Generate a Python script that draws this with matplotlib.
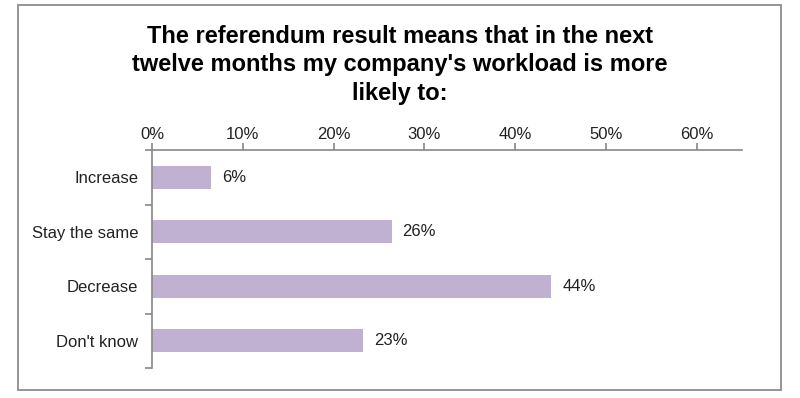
import matplotlib
matplotlib.use("Agg")
from matplotlib import pyplot as plt
from matplotlib.patches import Rectangle
import numpy as np

categories = ["Increase", "Stay the same", "Decrease", "Don't know"]
values = [6.5, 26.4, 44.0, 23.3]
labels = ["6%", "26%", "44%", "23%"]
x_ticks = [0, 10, 20, 30, 40, 50, 60]

plt.rcParams['font.family'] = ['Liberation Sans', 'DejaVu Sans']

fig = plt.figure(figsize=(8, 3.98), dpi=100)
# axes spans y from 150 to 368 pixels (top to bottom)
ax = fig.add_axes([152 / 800, (398 - 368) / 398, (742 - 152) / 800, (368 - 150) / 398])

# outer frame
fig.patches.append(Rectangle((18 / 800, (398 - 390) / 398), (781 - 18) / 800, (390 - 5) / 398,
                             transform=fig.transFigure, fill=False, edgecolor="#8c8c8c", linewidth=1.3))

y = np.arange(len(categories))
ax.barh(y, values, height=0.42, color="#c0b1d3")
for yi, v, lab in zip(y, values, labels):
    ax.text(v + 1.2, yi, lab, va="center", ha="left", fontsize=12, color="#222222")

ax.set_ylim(len(categories) - 0.5, -0.5)
ax.set_xlim(0, 65)
ax.set_xticks(x_ticks)
ax.set_xticklabels([f"{t}%" for t in x_ticks], fontsize=12, color="#222222")
ax.xaxis.tick_top()
ax.set_yticks(np.arange(-0.5, len(categories), 1.0))
ax.set_yticklabels([])
ax.set_yticks(y, minor=True)
ax.set_yticklabels(categories, minor=True, fontsize=12, color="#222222")
ax.tick_params(axis="y", which="minor", length=0, pad=10)
ax.tick_params(axis="y", which="major", length=5, color="#888888", width=1.2)
ax.tick_params(axis="x", length=5, color="#888888", width=1.2, pad=1)

for side in ["right", "bottom"]:
    ax.spines[side].set_visible(False)
ax.spines["top"].set_color("#888888")
ax.spines["left"].set_color("#888888")
ax.spines["top"].set_linewidth(1.2)
ax.spines["left"].set_linewidth(1.2)

fig.text(0.5, (398 - 65) / 398,
         "The referendum result means that in the next\ntwelve months my company's workload is more\nlikely to:",
         ha="center", va="center", fontsize=17, fontweight="bold", linespacing=1.32)

fig.savefig("out.png", dpi=100)
